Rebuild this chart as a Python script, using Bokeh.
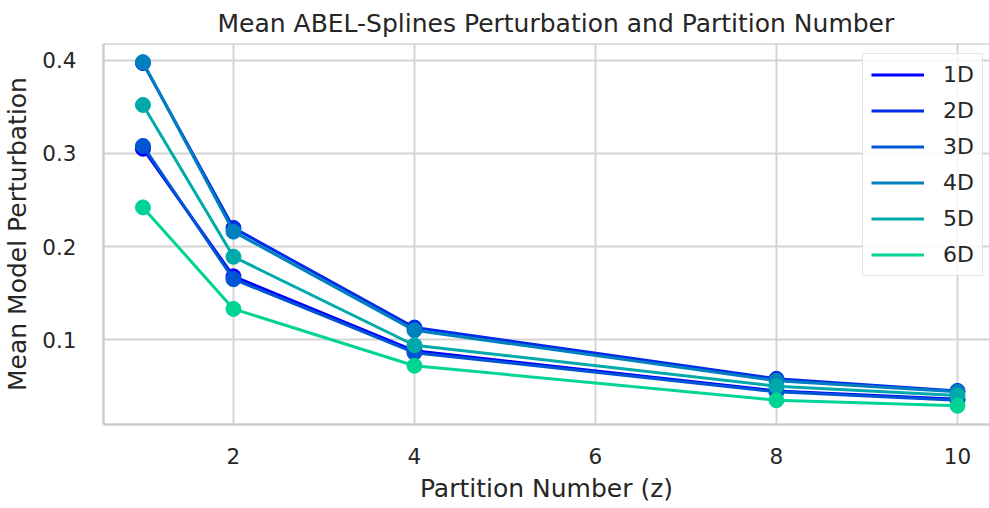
from bokeh.plotting import figure
from bokeh.models import FixedTicker, Range1d, Legend, LegendItem, Span
from bokeh.embed import file_html
from bokeh.resources import INLINE

# ---- data ----
partitions = [1, 2, 4, 8, 10]
pert_1d = [0.305, 0.168, 0.088, 0.045, 0.036]
pert_2d = [0.397, 0.220, 0.113, 0.058, 0.045]
pert_3d = [0.308, 0.165, 0.086, 0.044, 0.035]
pert_4d = [0.398, 0.216, 0.110, 0.056, 0.044]
pert_5d = [0.352, 0.189, 0.094, 0.050, 0.040]
pert_6d = [0.242, 0.133, 0.072, 0.035, 0.029]
series_names = ["1D", "2D", "3D", "4D", "5D", "6D"]
series_values = [pert_1d, pert_2d, pert_3d, pert_4d, pert_5d, pert_6d]
x_ticks = [2, 4, 6, 8, 10]
y_ticks = [0.1, 0.2, 0.3, 0.4]

# ---- style ----
colors = ["#0000ff", "#002bea", "#0055d4", "#0080bf", "#00aaaa", "#00d495"]
FONT = "DejaVu Sans"
TXT = "#262626"
GRID = "#d4d4d4"
SPINE = "#cccccc"

x_lo, x_hi = 0.564, 10.354
y_lo, y_hi = 0.0089, 0.418

p = figure(width=989, height=508, output_backend="svg", toolbar_location=None,
           x_range=Range1d(x_lo, x_hi), y_range=Range1d(y_lo, y_hi),
           min_border_left=103, min_border_right=0, min_border_top=42,
           min_border_bottom=84,
           title="Mean ABEL-Splines Perturbation and Partition Number")

p.title.text_font = FONT
p.title.text_font_size = "25px"
p.title.text_font_style = "normal"
p.title.text_color = TXT
p.title.align = "left"
p.title.offset = 114
p.title.standoff = 12

p.outline_line_color = None
p.background_fill_color = "white"
p.border_fill_color = "white"

for ax in (p.xaxis, p.yaxis):
    ax.major_tick_line_color = None
    ax.minor_tick_line_color = None
    ax.axis_line_color = SPINE
    ax.axis_line_width = 2.5
    ax.major_label_text_font = FONT
    ax.major_label_text_font_size = "21.5px"
    ax.major_label_text_color = TXT
    ax.axis_label_text_font = FONT
    ax.axis_label_text_font_size = "25px"
    ax.axis_label_text_font_style = "normal"
    ax.axis_label_text_color = TXT

p.xaxis.axis_label = "Partition Number (z)"
p.yaxis.axis_label = "Mean Model Perturbation"
p.xaxis.ticker = FixedTicker(ticks=x_ticks)
p.yaxis.ticker = FixedTicker(ticks=y_ticks)
p.xaxis.major_label_standoff = 17
p.yaxis.major_label_standoff = 21
p.xaxis.axis_label_standoff = 7
p.yaxis.axis_label_standoff = 7

p.grid.grid_line_color = GRID
p.grid.grid_line_width = 2

p.add_layout(Span(location=y_hi, dimension="width", line_color=SPINE, line_width=2.5))

items = []
for name, vals, c in zip(series_names, series_values, colors):
    r = p.line(partitions, vals, line_color=c, line_width=3)
    p.scatter(partitions, vals, size=15, fill_color=c, line_color=c)
    items.append(LegendItem(label=name, renderers=[r]))

legend = Legend(items=items, location=(759, 148))
legend.label_text_font = FONT
legend.label_text_font_size = "22px"
legend.label_text_color = TXT
legend.glyph_width = 53
legend.glyph_height = 25
legend.label_height = 25
legend.label_standoff = 19
legend.spacing = 11
legend.padding = 8
legend.margin = 0
legend.border_line_color = "#cccccc"
legend.border_line_width = 1
legend.background_fill_color = "white"
legend.background_fill_alpha = 0.8
p.add_layout(legend)

open("out.html", "w").write(file_html(p, INLINE))
